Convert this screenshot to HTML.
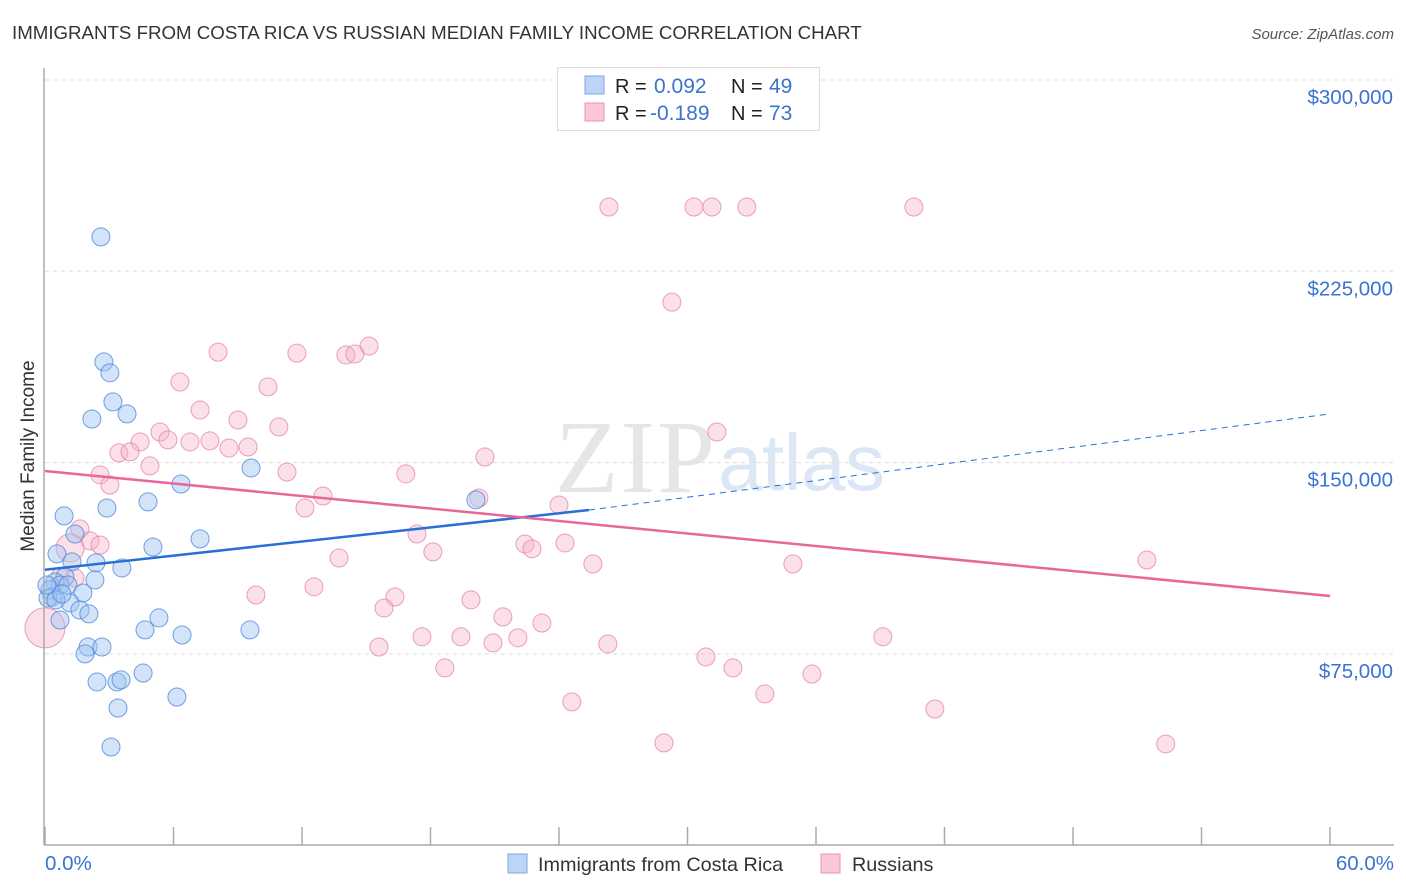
<!DOCTYPE html>
<html><head><meta charset="utf-8">
<style>
body{margin:0;background:#fff;font-family:"Liberation Sans",sans-serif;}
#wrap{position:relative;width:1406px;height:892px;overflow:hidden;}
</style></head>
<body>
<div id="wrap">
<svg id="svg" width="1406" height="892" xmlns="http://www.w3.org/2000/svg">
  <text x="12" y="39" font-size="18.7" fill="#333">IMMIGRANTS FROM COSTA RICA VS RUSSIAN MEDIAN FAMILY INCOME CORRELATION CHART</text>
  <text x="1394" y="39" font-size="15" fill="#555" text-anchor="end" font-style="italic">Source: ZipAtlas.com</text>
  <text x="34" y="456" font-size="19" fill="#333" text-anchor="middle" transform="rotate(-90 34 456)">Median Family Income</text>
  <g id="grid"></g>
  <text x="555" y="492" font-size="104" fill="#e6e6e6" font-family="Liberation Serif,serif" textLength="160">ZIP</text>
  <text x="718" y="490" font-size="80" fill="#dce7f5" textLength="167">atlas</text>
  <g id="pts"></g>
  <g id="lines"></g>
  <line x1="44" y1="68" x2="44" y2="845" stroke="#aaa" stroke-width="1.5"/>
  <line x1="44" y1="845" x2="1394" y2="845" stroke="#aaa" stroke-width="1.5"/>
  <text x="45" y="870" font-size="20.5" fill="#3b73d1">0.0%</text>
  <text x="1394" y="870" font-size="20.5" fill="#3b73d1" text-anchor="end">60.0%</text>
  <g>
    <rect x="557.5" y="67.5" width="262" height="63" fill="#fff" stroke="#ddd"/>
    <rect x="585" y="76" width="19" height="18" fill="#bcd4f5" stroke="#7fa7e3"/>
    <rect x="585" y="103" width="19" height="18" fill="#f9c7d5" stroke="#eb93ad"/>
    <text x="615" y="93" font-size="20" fill="#222">R = </text>
    <text x="654" y="93" font-size="21" fill="#3b73d1">0.092</text>
    <text x="731" y="93" font-size="20" fill="#222">N = </text>
    <text x="769" y="93" font-size="21" fill="#3b73d1">49</text>
    <text x="615" y="120" font-size="20" fill="#222">R = </text>
    <text x="650" y="120" font-size="21" fill="#3b73d1">-0.189</text>
    <text x="731" y="120" font-size="20" fill="#222">N = </text>
    <text x="769" y="120" font-size="21" fill="#3b73d1">73</text>
  </g>
  <g>
    <rect x="508" y="854" width="19" height="19" fill="#bcd4f5" stroke="#7fa7e3"/>
    <text x="538" y="871" font-size="19.8" fill="#333">Immigrants from Costa Rica</text>
    <rect x="821" y="854" width="19" height="19" fill="#f9c7d5" stroke="#eb93ad"/>
    <text x="852" y="871" font-size="19.8" fill="#333">Russians</text>
  </g>
</svg>
</div>
<script>
const yTicks=[300000,225000,150000,75000];
const yTickLabels=["$300,000","$225,000","$150,000","$75,000"];
const xTicks=[0,6,12,18,24,30,36,42,48,54,60];
const blueX=[2.61,2.75,3.03,3.17,2.19,3.83,0.89,2.89,4.81,6.35,9.62,20.12,1.40,5.04,7.24,0.56,1.26,2.38,3.59,0.93,2.33,0.47,0.70,1.07,0.23,0.33,1.77,1.17,1.63,2.05,0.70,4.67,5.32,6.40,9.57,2.01,2.66,1.87,2.43,3.36,3.55,4.58,3.41,6.16,3.08,0.14,0.51,0.79,0.09];
const blueY=[238.5,189.5,185.2,173.8,167.1,169.1,129.1,132.2,134.6,141.6,147.9,135.4,122.0,116.9,120.1,114.2,111.1,110.7,108.7,105.2,104.0,103.2,102.0,102.0,100.1,97.3,98.9,95.0,92.2,90.7,88.3,84.4,89.1,82.4,84.4,77.7,77.7,75.0,64.0,64.0,64.8,67.5,53.8,58.1,38.5,96.9,96.2,98.5,102.0];
const pinkX=[26.33,30.30,31.14,32.77,40.57,29.27,15.13,8.08,11.76,14.05,14.47,6.30,10.41,7.24,9.01,10.92,31.37,5.37,5.74,6.77,7.70,4.44,8.59,9.48,3.45,3.97,4.90,2.57,11.30,16.85,20.54,3.03,12.98,20.26,12.14,24.00,1.63,17.37,22.41,22.74,24.28,18.11,2.10,13.73,25.58,34.92,51.45,0.70,12.56,9.85,16.34,15.83,19.89,21.38,23.20,17.60,19.42,20.92,22.08,15.59,26.28,39.12,30.86,32.12,18.67,35.81,33.61,24.60,41.55,28.90,52.33,2.57,1.40,1.17,0];
const pinkY=[250.2,250.2,250.2,250.2,250.2,212.9,195.7,193.3,192.9,192.2,192.6,181.6,179.7,170.6,166.7,164.0,162.0,162.0,158.9,158.1,158.5,158.1,155.7,156.1,153.8,154.2,148.7,145.2,146.3,145.6,152.2,141.2,136.9,136.1,132.2,133.4,124.0,122.0,118.1,116.2,118.5,115.0,119.3,112.6,110.3,110.3,111.8,105.2,101.3,98.1,97.3,93.0,96.2,89.5,87.1,81.7,81.7,79.3,81.3,77.7,78.9,81.7,73.8,69.5,69.5,67.1,59.3,56.2,53.4,40.1,39.7,117.7,104.8,116.5,85.2];
const pinkR=[9,9,9,9,9,9,9,9,9,9,9,9,9,9,9,9,9,9,9,9,9,9,9,9,9,9,9,9,9,9,9,9,9,9,9,9,9,9,9,9,9,9,9,9,9,9,9,9,9,9,9,9,9,9,9,9,9,9,9,9,9,9,9,9,9,9,9,9,9,9,9,9,9,14,20];
const blueTrendX=[0,25.4,60];
const blueTrendY=[108.0,131.4,169.1];
const pinkTrendX=[0,60];
const pinkTrendY=[146.7,97.7];

const NS="http://www.w3.org/2000/svg";
function xs(p){return 45+p*(1330-45)/60;}
function ys(v){return 80+(300000-v)/75000*191.3;}
function mk(tag,attrs,parent){const e=document.createElementNS(NS,tag);for(const k in attrs)e.setAttribute(k,attrs[k]);parent.appendChild(e);return e;}

const grid=document.getElementById('grid');
yTicks.forEach((t,i)=>{
  const l=mk('line',{x1:45,x2:1394,y1:ys(t),y2:ys(t),stroke:'#ddd','stroke-dasharray':'4,4'},grid);
  
  
  const tx=mk('text',{x:1393,y:ys(t)+24,'font-size':20.5,fill:'#3b73d1','text-anchor':'end'},grid);
  tx.textContent=yTickLabels[i];
  
  
});
xTicks.forEach(t=>{
  const l=mk('line',{x1:xs(t),x2:xs(t),y1:827,y2:845,stroke:'#aaa','stroke-width':1.5},grid);
  
  
});

const pts=document.getElementById('pts');
pinkX.forEach((x,i)=>{
  const c=mk('circle',{cx:xs(x),cy:ys(pinkY[i]*1000),r:pinkR[i],fill:'rgba(246,178,200,0.4)',stroke:'rgba(230,130,160,0.75)','stroke-width':1},pts);
  
  
});
blueX.forEach((x,i)=>{
  const c=mk('circle',{cx:xs(x),cy:ys(blueY[i]*1000),r:9,fill:'rgba(160,195,240,0.45)',stroke:'rgba(70,130,220,0.75)','stroke-width':1},pts);
  
  
});

const lines=document.getElementById('lines');
const b1=mk('line',{x1:xs(blueTrendX[0]),y1:ys(blueTrendY[0]*1000),x2:xs(blueTrendX[1]),y2:ys(blueTrendY[1]*1000),stroke:'#2a6fd6','stroke-width':2.5},lines);


const b2=mk('line',{x1:xs(blueTrendX[1]),y1:ys(blueTrendY[1]*1000),x2:xs(blueTrendX[2]),y2:ys(blueTrendY[2]*1000),stroke:'#2a6fd6','stroke-width':1,'stroke-dasharray':'6,5'},lines);


const p1=mk('line',{x1:xs(pinkTrendX[0]),y1:ys(pinkTrendY[0]*1000),x2:xs(pinkTrendX[1]),y2:ys(pinkTrendY[1]*1000),stroke:'#e8669a','stroke-width':2.5},lines);


</script>
</body></html>
